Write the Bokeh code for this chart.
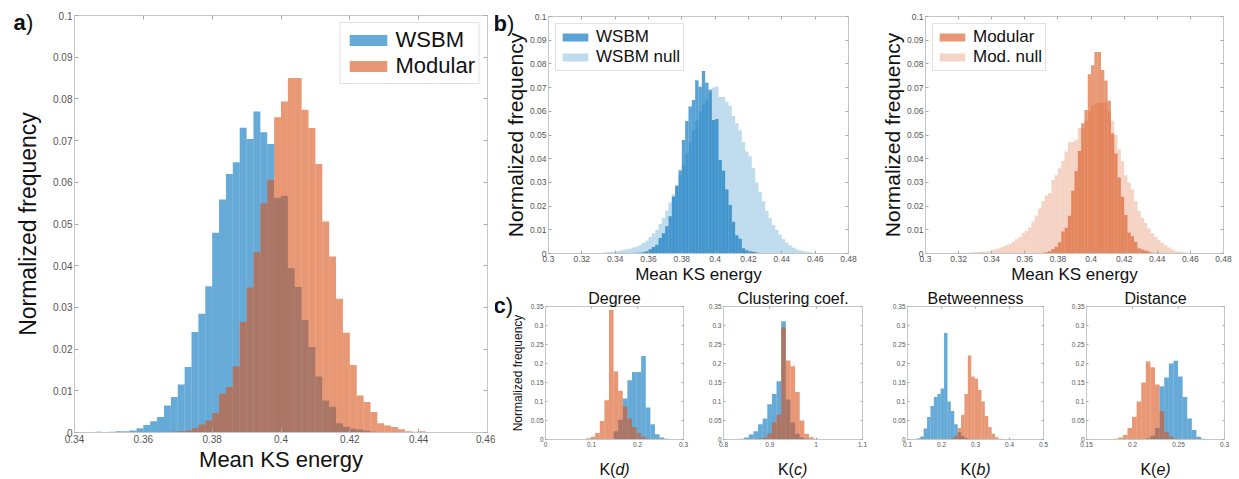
from bokeh.plotting import figure
from bokeh.models import (Range1d, FixedTicker, CustomJSTickFormatter, LinearAxis,
                          Legend, LegendItem, Label, ColumnDataSource)
from bokeh.layouts import row, column
from bokeh.embed import file_html
from bokeh.resources import INLINE

FONT = "Liberation Sans"
BLUE = "#0072BD"
ORANGE = "#D95319"
TXT = "#111111"
TICKTXT = "#555555"
EDGE = "#c6c6c6"

# ---------------- data: mean KS energy histograms (bin width 0.002) ----------------
KS_BIN = 0.002
WSBM_START = 0.344
WSBM_FREQ = [0.0001, 0.0002, 0.0001, 0.0002, 0.0003, 0.0003, 0.0005, 0.0010, 0.0018, 0.0027,
             0.0037, 0.0065, 0.0085, 0.0115, 0.0157, 0.0241, 0.0285, 0.0351, 0.0479, 0.0559,
             0.0620, 0.0648, 0.0731, 0.0704, 0.0770, 0.0720, 0.0692, 0.0563, 0.0568, 0.0394,
             0.0349, 0.0270, 0.0205, 0.0134, 0.0077, 0.0062, 0.0022, 0.0014, 0.0009, 0.0007,
             0.0004, 0.0002]
MOD_START = 0.366
MOD_FREQ = [0.0001, 0.0002, 0.0003, 0.0005, 0.0010, 0.0019, 0.0029, 0.0047, 0.0093, 0.0109,
            0.0159, 0.0265, 0.0348, 0.0432, 0.0550, 0.0606, 0.0756, 0.0794, 0.0850, 0.0850,
            0.0774, 0.0730, 0.0644, 0.0506, 0.0422, 0.0321, 0.0239, 0.0162, 0.0089, 0.0073,
            0.0049, 0.0022, 0.0017, 0.0013, 0.0008, 0.0003, 0.0002, 0.0003, 0.0001, 0.0001]
WSBM_NULL_START = 0.332
WSBM_NULL_FREQ = [0.0003, 0.0005, 0.0006, 0.0008, 0.0010, 0.0012, 0.0015, 0.0018, 0.0020, 0.0025,
                  0.0030, 0.0035, 0.0045, 0.0055, 0.0070, 0.0085, 0.0100, 0.0125, 0.0150, 0.0180,
                  0.0215, 0.0250, 0.0290, 0.0330, 0.0375, 0.0420, 0.0470, 0.0520, 0.0560, 0.0600,
                  0.0630, 0.0650, 0.0680, 0.0700, 0.0705, 0.0660, 0.0660, 0.0640, 0.0625, 0.0580,
                  0.0550, 0.0520, 0.0470, 0.0430, 0.0410, 0.0360, 0.0300, 0.0260, 0.0220, 0.0180,
                  0.0150, 0.0120, 0.0100, 0.0080, 0.0060, 0.0045, 0.0035, 0.0025, 0.0018, 0.0013,
                  0.0010, 0.0007, 0.0005, 0.0003]
MOD_NULL_START = 0.326
MOD_NULL_FREQ = [0.0004, 0.0005, 0.0006, 0.0007, 0.0008, 0.0008, 0.0010, 0.0015, 0.0020, 0.0022,
                 0.0030, 0.0035, 0.0040, 0.0050, 0.0060, 0.0070, 0.0085, 0.0095, 0.0110, 0.0135,
                 0.0160, 0.0190, 0.0220, 0.0245, 0.0255, 0.0310, 0.0330, 0.0360, 0.0390, 0.0430,
                 0.0470, 0.0470, 0.0480, 0.0530, 0.0530, 0.0560, 0.0600, 0.0625, 0.0635, 0.0638,
                 0.0635, 0.0638, 0.0600, 0.0560, 0.0500, 0.0440, 0.0390, 0.0330, 0.0300, 0.0270,
                 0.0220, 0.0180, 0.0150, 0.0130, 0.0105, 0.0085, 0.0070, 0.0056, 0.0045, 0.0035,
                 0.0025, 0.0018, 0.0012, 0.0008, 0.0006, 0.0004, 0.0003]

# ---------------- data: panel c histograms ----------------
DEG_BIN = 0.01
DEG_WSBM_START = 0.148
DEG_WSBM = [0.022, 0.052, 0.108, 0.156, 0.1775, 0.1775, 0.2195, 0.084, 0.040, 0.014, 0.005, 0.002]
DEG_MOD_START = 0.088
DEG_MOD = [0.003, 0.007, 0.017, 0.049, 0.103, 0.341, 0.179, 0.128, 0.087, 0.055, 0.033, 0.017, 0.007, 0.002]

CLU_BIN = 0.01
CLU_WSBM_START = 0.8345
CLU_WSBM = [0.002, 0.005, 0.013, 0.022, 0.040, 0.055, 0.093, 0.120, 0.153, 0.311, 0.105, 0.045, 0.015, 0.005, 0.002]
CLU_MOD_START = 0.8745
CLU_MOD = [0.002, 0.005, 0.015, 0.045, 0.065, 0.295, 0.208, 0.193, 0.125, 0.050, 0.015, 0.006, 0.002]

BET_BIN = 0.01
BET_WSBM_START = 0.1275
BET_WSBM = [0.003, 0.008, 0.029, 0.059, 0.088, 0.112, 0.120, 0.134, 0.280, 0.100, 0.075, 0.040, 0.020, 0.010, 0.004, 0.002]
BET_MOD_START = 0.2275
BET_MOD = [0.003, 0.010, 0.030, 0.065, 0.120, 0.221, 0.166, 0.160, 0.130, 0.100, 0.062, 0.033, 0.015, 0.006, 0.002]

DIST_BIN = 0.005
DIST_WSBM_START = 0.2145
DIST_WSBM = [0.003, 0.010, 0.030, 0.140, 0.163, 0.200, 0.207, 0.166, 0.112, 0.055, 0.025, 0.007, 0.002]
DIST_MOD_START = 0.1795
DIST_MOD = [0.002, 0.005, 0.012, 0.030, 0.060, 0.100, 0.150, 0.205, 0.190, 0.145, 0.075, 0.020, 0.007, 0.002]

# ---------------- ticks ----------------
A_XTICKS = [0.34, 0.36, 0.38, 0.40, 0.42, 0.44, 0.46]
A_YTICKS = [0, 0.01, 0.02, 0.03, 0.04, 0.05, 0.06, 0.07, 0.08, 0.09, 0.1]
B_XTICKS = [0.30, 0.32, 0.34, 0.36, 0.38, 0.40, 0.42, 0.44, 0.46, 0.48]
B_YTICKS = A_YTICKS
C_YTICKS = [0, 0.05, 0.1, 0.15, 0.2, 0.25, 0.3, 0.35]
DEG_XTICKS = [0, 0.1, 0.2, 0.3]
CLU_XTICKS = [0.8, 0.9, 1.0, 1.1]
BET_XTICKS = [0.1, 0.2, 0.3, 0.4, 0.5]
DIST_XTICKS = [0.15, 0.2, 0.25, 0.3]


def hist_source(start, width, freqs):
    left = [round(start + i * width, 6) for i in range(len(freqs))]
    right = [round(x + width, 6) for x in left]
    return ColumnDataSource(dict(left=left, right=right, top=list(freqs), bottom=[0] * len(freqs)))


def style_axis(ax, ticks, tick_px, tick_len, blank=False):
    ax.ticker = FixedTicker(ticks=ticks)
    ax.axis_line_color = EDGE
    ax.major_tick_in = tick_len
    ax.major_tick_out = 0
    ax.minor_tick_in = 0
    ax.minor_tick_out = 0
    ax.minor_tick_line_color = None
    ax.major_tick_line_color = "#a8a8a8"
    if blank:
        ax.formatter = CustomJSTickFormatter(code="return '';")
        ax.major_label_text_font_size = "0px"
        ax.major_label_standoff = 0
    else:
        ax.formatter = CustomJSTickFormatter(code="return Number(tick.toFixed(4)).toString();")
        ax.major_label_text_font = FONT
        ax.major_label_text_font_size = f"{tick_px}px"
        ax.major_label_text_color = TICKTXT
        ax.major_label_standoff = 2
    ax.axis_label_text_font = FONT
    ax.axis_label_text_font_style = "normal"
    ax.axis_label_text_color = TXT


def make_fig(width, height, xlim, ylim, borders, xticks, yticks, tick_px, tick_len, title=None):
    kw = {}
    if title is not None:
        kw["title"] = title
    p = figure(width=width, height=height, x_range=Range1d(*xlim), y_range=Range1d(*ylim),
               output_backend="svg", toolbar_location=None,
               min_border_left=borders[0], min_border_right=borders[1],
               min_border_top=borders[2], min_border_bottom=borders[3], **kw)
    p.xgrid.visible = False
    p.ygrid.visible = False
    p.outline_line_color = EDGE
    p.background_fill_color = "white"
    p.border_fill_color = "white"
    style_axis(p.below[0], xticks, tick_px, tick_len)
    style_axis(p.left[0], yticks, tick_px, tick_len)
    top_ax = LinearAxis()
    style_axis(top_ax, xticks, tick_px, tick_len, blank=True)
    p.add_layout(top_ax, "above")
    right_ax = LinearAxis()
    style_axis(right_ax, yticks, tick_px, tick_len, blank=True)
    p.add_layout(right_ax, "right")
    if title is not None:
        p.title.align = "center"
        p.title.text_font = FONT
        p.title.text_font_size = "16px"
        p.title.text_font_style = "normal"
        p.title.text_color = TXT
        p.title.standoff = 0
    return p


def set_label(ax, text, px, standoff):
    ax.axis_label = text
    ax.axis_label_text_font_size = f"{px}px"
    ax.axis_label_standoff = standoff


def add_hist(p, start, width, freqs, color, alpha):
    return p.quad(source=hist_source(start, width, freqs), left="left", right="right",
                  top="top", bottom="bottom", fill_color=color, fill_alpha=alpha, line_color=None)


def text_label(p, x, y, text, dx, dy, side, size="22px", style="normal", align="left"):
    # side panels are not clipped to the frame; the position itself is set from the frame corner
    p.add_layout(Label(x=x, y=y, x_offset=dx, y_offset=dy, text=text, text_font=FONT,
                       text_font_size=size, text_font_style=style, text_color=TXT,
                       text_baseline="alphabetic", text_align=align), side)


def style_legend(leg, font_px, gw, gh, lh, pad, standoff):
    leg.label_text_font = FONT
    leg.label_text_font_size = f"{font_px}px"
    leg.label_text_color = TXT
    leg.glyph_width = gw
    leg.glyph_height = gh
    leg.label_height = lh
    leg.padding = pad
    leg.spacing = 0
    leg.margin = 7
    leg.label_standoff = standoff
    leg.border_line_color = EDGE
    leg.background_fill_color = "white"
    leg.background_fill_alpha = 1.0


# ---------------- panel a ----------------
pa = make_fig(495, 479, (0.34, 0.46), (0, 0.1), (72, 8, 15, 47), A_XTICKS, A_YTICKS, 10, 4)
set_label(pa.below[0], "Mean KS energy", 22, 1)
set_label(pa.left[0], "Normalized frequency", 23, 9)
ra_w = add_hist(pa, WSBM_START, KS_BIN, WSBM_FREQ, BLUE, 0.6)
ra_m = add_hist(pa, MOD_START, KS_BIN, MOD_FREQ, ORANGE, 0.6)
leg_a = Legend(items=[LegendItem(label="WSBM", renderers=[ra_w]),
                      LegendItem(label="Modular", renderers=[ra_m])], location="top_right")
style_legend(leg_a, 22, 47, 14, 25, 4, 4)
pa.add_layout(leg_a)
text_label(pa, 0.34, 0.1, "a", -61, -7, "left", style="bold")
text_label(pa, 0.34, 0.1, ")", -48.5, -7, "right")


# ---------------- panel b ----------------
def make_b(width, borders, null_start, null_freq, main_start, main_freq, color, main_alpha, labels):
    p = make_fig(width, 286, (0.3, 0.48), (0, 0.1), borders, B_XTICKS, B_YTICKS, 8.5, 3)
    set_label(p.below[0], "Mean KS energy", 17, 0)
    set_label(p.left[0], "Normalized frequency", 21, 0)
    rn = add_hist(p, null_start, KS_BIN, null_freq, color, 0.25)
    rm = add_hist(p, main_start, KS_BIN, main_freq, color, main_alpha)
    leg = Legend(items=[LegendItem(label=labels[0], renderers=[rm]),
                        LegendItem(label=labels[1], renderers=[rn])], location="top_left")
    style_legend(leg, 17, 32, 10, 19, 3, 5)
    p.add_layout(leg)
    return p


pb1 = make_b(375, (53, 22, 16, 33), WSBM_NULL_START, WSBM_NULL_FREQ, WSBM_START, WSBM_FREQ,
             BLUE, 0.65, ("WSBM", "WSBM null"))
text_label(pb1, 0.3, 0.1, "b", -55, -7, "right", style="bold")
text_label(pb1, 0.3, 0.1, ")", -41.5, -7, "right")
pb2 = make_b(369, (55, 16, 16, 33), MOD_NULL_START, MOD_NULL_FREQ, MOD_START, MOD_FREQ,
             ORANGE, 0.6, ("Modular", "Mod. null"))


# ---------------- panel c ----------------
def make_c(width, borders, xlim, xticks, title, wsbm, mod, binw, var):
    p = make_fig(width, 193, xlim, (0, 0.35), borders, xticks, C_YTICKS, 6.5, 2, title=title)
    add_hist(p, wsbm[0], binw, wsbm[1], BLUE, 0.6)
    add_hist(p, mod[0], binw, mod[1], ORANGE, 0.6)
    cx = (xlim[0] + xlim[1]) / 2
    # x label "K(var)" with the variable in italics, centred under the frame
    text_label(p, cx, 0, "K(", 0.9, -30, "below", size="16px", align="right")
    text_label(p, cx, 0, var + ")", 0.9, -30, "right", size="16px", style="italic")
    return p


pc1 = make_c(210, (50, 22, 20, 40), (0, 0.3), DEG_XTICKS, "Degree",
             (DEG_WSBM_START, DEG_WSBM), (DEG_MOD_START, DEG_MOD), DEG_BIN, "d")
set_label(pc1.left[0], "Normalized frequency", 12, 3)
text_label(pc1, 0, 0.35, "c", -52, 1, "left", style="bold")
text_label(pc1, 0, 0.35, ")", -39.8, 1, "right")
pc2 = make_c(175, (17, 18, 20, 40), (0.8, 1.1), CLU_XTICKS, "Clustering coef.",
             (CLU_WSBM_START, CLU_WSBM), (CLU_MOD_START, CLU_MOD), CLU_BIN, "c")
pc3 = make_c(182, (27, 19, 20, 40), (0.1, 0.5), BET_XTICKS, "Betweenness",
             (BET_WSBM_START, BET_WSBM), (BET_MOD_START, BET_MOD), BET_BIN, "b")
pc4 = make_c(177, (24, 15, 20, 40), (0.15, 0.3), DIST_XTICKS, "Distance",
             (DIST_WSBM_START, DIST_WSBM), (DIST_MOD_START, DIST_MOD), DIST_BIN, "e")

layout = row(pa, column(row(pb1, pb2), row(pc1, pc2, pc3, pc4)))

open("out.html", "w").write(file_html(layout, INLINE))
